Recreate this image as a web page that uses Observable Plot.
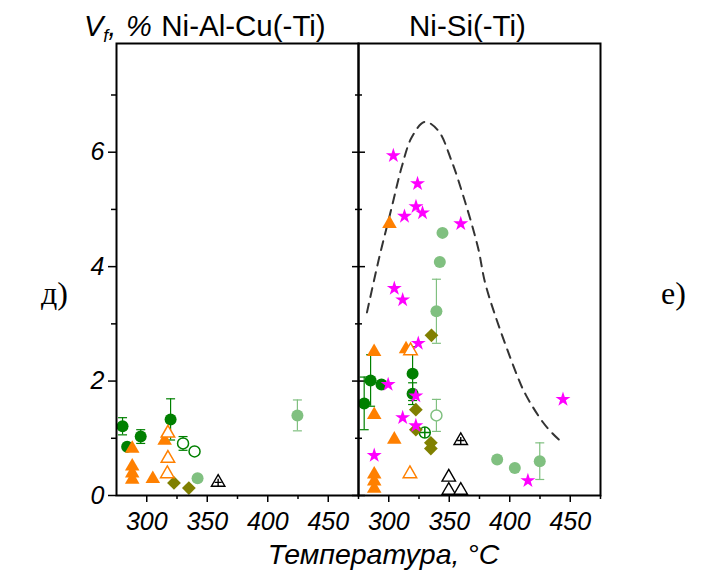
<!DOCTYPE html>
<html>
<head>
<meta charset="utf-8">
<script src="https://cdn.jsdelivr.net/npm/d3@7"></script>
<script src="https://cdn.jsdelivr.net/npm/@observablehq/plot@0.6"></script>
<style>
  html, body { margin: 0; padding: 0; background: #fff; }
  #chart svg { display: block; }
</style>
</head>
<body>
<div id="chart"></div>
<script>
// Alloy groups, one panel each
const panels = ["Ni-Al-Cu(-Ti)", "Ni-Si(-Ti)"];

// Tick values
const xMajorTicks = [300, 350, 400, 450];
const xMinorTicks = [325, 375, 425, 475];
const yMajorTicks = [0, 2, 4, 6];
const yMinorTicks = [1, 3, 5, 7];

// Rows: [panel index, temperature °C, Vf %, ± error]
const darkGreenCircles = [
  [0, 280, 1.21, 0.15],
  [0, 283.8, 0.85, 0],
  [0, 295, 1.03, 0.12],
  [0, 319.7, 1.33, 0.36],
  [1, 279.7, 1.61, 0.46],
  [1, 285, 2.01, 0.45],
  [1, 294, 1.94, 0],
  [1, 319.7, 2.13, 0.47],
  [1, 319.7, 1.78, 0.19]
];
const lightGreenCircles = [
  [0, 342, 0.30, 0],
  [0, 424.5, 1.40, 0.27],
  [1, 339.4, 3.22, 0.56],
  [1, 342.2, 4.08, 0.03],
  [1, 344.4, 4.59, 0],
  [1, 389.6, 0.63, 0],
  [1, 404.2, 0.48, 0],
  [1, 424.8, 0.60, 0.32]
];
const openGreenCircles = [
  [0, 330, 0.91, 0.12],
  [0, 339.5, 0.77, 0.05]
];
const openLightGreenCircles = [
  [1, 339.4, 1.40, 0.28]
];
const crossedGreenCircles = [
  [1, 329.8, 1.10, 0]
];
const oliveDiamonds = [
  [0, 322.5, 0.22, 0],
  [0, 334.8, 0.13, 0],
  [1, 335.3, 2.80, 0],
  [1, 322.4, 1.50, 0],
  [1, 322.4, 1.15, 0],
  [1, 334.8, 0.92, 0],
  [1, 334.8, 0.82, 0]
];
const orangeTriangles = [
  [0, 288, 0.82, 0],
  [0, 314.8, 0.96, 0],
  [0, 288, 0.51, 0],
  [0, 288, 0.39, 0],
  [0, 288, 0.28, 0],
  [0, 305, 0.29, 0],
  [1, 287.9, 2.51, 0],
  [1, 288, 1.41, 0],
  [1, 304.6, 0.98, 0],
  [1, 288, 0.37, 0],
  [1, 288, 0.25, 0],
  [1, 288, 0.12, 0],
  [1, 314.3, 2.56, 0],
  [1, 300.6, 4.75, 0]
];
const openOrangeTriangles = [
  [0, 317.5, 1.09, 0],
  [0, 317.5, 0.65, 0],
  [0, 317, 0.38, 0],
  [1, 318, 2.53, 0],
  [1, 317.5, 0.38, 0]
];
const magentaStars = [
  [1, 303.8, 5.94, 0],
  [1, 323.8, 5.45, 0],
  [1, 322.5, 5.05, 0],
  [1, 327.9, 4.94, 0],
  [1, 313, 4.88, 0],
  [1, 359.5, 4.75, 0],
  [1, 304.6, 3.62, 0],
  [1, 311.5, 3.42, 0],
  [1, 324.4, 2.66, 0],
  [1, 299.5, 1.94, 0],
  [1, 322.4, 1.74, 0],
  [1, 311.5, 1.36, 0],
  [1, 322.4, 1.22, 0],
  [1, 288, 0.70, 0],
  [1, 444, 1.68, 0],
  [1, 415, 0.26, 0]
];
const openBlackTriangles = [
  [1, 349.6, 0.32, 0],
  [1, 349.6, 0.09, 0],
  [1, 359.5, 0.09, 0]
];
const crossedBlackTriangles = [
  [0, 359, 0.23, 0],
  [1, 359.5, 0.96, 0]
];

// Dashed envelope in the Ni-Si(-Ti) panel
const envelopeT = [282, 291.6, 302.5, 310.7, 319, 329.8, 340.8, 351.7, 362.7, 373.7, 380.6, 406.6, 413.5, 427.4, 435.6, 444];
const envelopeV = [3.2, 4.11, 5.04, 5.74, 6.26, 6.53, 6.38, 5.86, 5.16, 4.34, 3.64, 2.07, 1.75, 1.28, 1.08, 0.91];

const rows = (arr) => arr.map(([p, T, V, e]) => ({panel: panels[p], T, V, e}));
const envelope = envelopeT.map((T, i) => ({panel: panels[1], T, V: envelopeV[i]}));

// Stroke-only symbols: a short horizontal bar (error caps) and a plus sign
const capSymbol = {draw(ctx, size) { const h = Math.sqrt(size / Math.PI); ctx.moveTo(-h, 0); ctx.lineTo(h, 0); }};
const plusSymbol = {draw(ctx, size) { const h = Math.sqrt(size / Math.PI); ctx.moveTo(-h, 0); ctx.lineTo(h, 0); ctx.moveTo(0, -h); ctx.lineTo(0, h); }};

function errorBars(data, color) {
  const withErr = data.filter(d => d.e > 0);
  const caps = withErr.flatMap(d => [{...d, y: d.V - d.e}, {...d, y: d.V + d.e}]);
  return [
    Plot.ruleX(withErr, {fx: "panel", x: "T", y1: d => d.V - d.e, y2: d => d.V + d.e, stroke: color, strokeWidth: 1.2}),
    Plot.dot(caps, {fx: "panel", x: "T", y: "y", symbol: capSymbol, r: 4.5, fill: "none", stroke: color, strokeWidth: 1.2})
  ];
}

const GREEN = "#008000", LIGHT = "#80c080", ORANGE = "#ff8000", OLIVE = "#808000", MAGENTA = "#ff00ff";
const dg = rows(darkGreenCircles), lg = rows(lightGreenCircles), og = rows(openGreenCircles),
      olg = rows(openLightGreenCircles), cg = rows(crossedGreenCircles), od = rows(oliveDiamonds),
      ot = rows(orangeTriangles), oot = rows(openOrangeTriangles), ms = rows(magentaStars),
      obt = rows(openBlackTriangles), cbt = rows(crossedBlackTriangles);

const tickText = {fontSize: 25, fontStyle: "italic", label: null, tickFormat: d => String(d)};

const chart = Plot.plot({
  width: 706,
  height: 573,
  marginLeft: 115,
  marginRight: 106,
  marginTop: 43,
  marginBottom: 78,
  style: {fontFamily: "'Liberation Sans', Arial, sans-serif", background: "white", color: "black", overflow: "visible"},
  fx: {domain: panels, padding: 0, axis: null},
  x: {domain: [275, 475]},
  y: {domain: [0, 7.9]},
  marks: [
    // axes
    Plot.axisX({ticks: xMajorTicks, tickSize: 7, tickPadding: 10, strokeWidth: 1.5, ...tickText}),
    Plot.axisX({ticks: xMinorTicks, tickSize: 4, strokeWidth: 1.5, text: null, label: null}),
    Plot.axisY({ticks: yMajorTicks, tickSize: 8, tickPadding: 4, strokeWidth: 1.5, ...tickText}),
    Plot.axisY({ticks: yMinorTicks, tickSize: 5, strokeWidth: 1.5, text: null, label: null}),
    Plot.axisY({anchor: "right", facetAnchor: "left", ticks: yMajorTicks, tickSize: -7, strokeWidth: 1.5, text: null, label: null}),
    Plot.axisY({anchor: "right", facetAnchor: "left", ticks: yMinorTicks, tickSize: -4, strokeWidth: 1.5, text: null, label: null}),
    Plot.axisY({anchor: "left", facetAnchor: "right", ticks: yMajorTicks, tickSize: -7, strokeWidth: 1.5, text: null, label: null}),
    Plot.axisY({anchor: "left", facetAnchor: "right", ticks: yMinorTicks, tickSize: -4, strokeWidth: 1.5, text: null, label: null}),

    // envelope
    Plot.line(envelope, {fx: "panel", x: "T", y: "V", curve: "catmull-rom", stroke: "#333", strokeWidth: 2, strokeDasharray: "9,7"}),

    // error bars
    ...errorBars(dg, GREEN),
    ...errorBars(lg, LIGHT),
    ...errorBars(og, GREEN),
    ...errorBars(olg, LIGHT),

    // markers
    Plot.dot(dg, {fx: "panel", x: "T", y: "V", r: 6, fill: GREEN}),
    Plot.dot(lg, {fx: "panel", x: "T", y: "V", r: 6, fill: LIGHT}),
    Plot.dot(og, {fx: "panel", x: "T", y: "V", r: 5.5, fill: "white", stroke: GREEN, strokeWidth: 1.5}),
    Plot.dot(olg, {fx: "panel", x: "T", y: "V", r: 5.5, fill: "white", stroke: LIGHT, strokeWidth: 1.5}),
    Plot.dot(cg, {fx: "panel", x: "T", y: "V", r: 5.5, fill: "white", stroke: GREEN, strokeWidth: 1.5}),
    Plot.dot(cg, {fx: "panel", x: "T", y: "V", r: 5.5, symbol: plusSymbol, fill: "none", stroke: GREEN, strokeWidth: 1.5}),
    Plot.dot(od, {fx: "panel", x: "T", y: "V", r: 6.2, symbol: "diamond2", fill: OLIVE, stroke: "none"}),
    Plot.dot(ot, {fx: "panel", x: "T", y: "V", r: 5.4, symbol: "triangle", fill: ORANGE, stroke: "none"}),
    Plot.dot(oot, {fx: "panel", x: "T", y: "V", r: 5, symbol: "triangle", fill: "white", stroke: ORANGE, strokeWidth: 1.5}),
    Plot.dot(ms, {fx: "panel", x: "T", y: "V", r: 4.7, symbol: "star", fill: MAGENTA, stroke: "none"}),
    Plot.dot(obt, {fx: "panel", x: "T", y: "V", r: 5, symbol: "triangle", fill: "white", stroke: "black", strokeWidth: 1.4}),
    Plot.dot(cbt, {fx: "panel", x: "T", y: "V", r: 5, symbol: "triangle", fill: "white", stroke: "black", strokeWidth: 1.4}),
    Plot.dot(cbt, {fx: "panel", x: "T", y: "V", r: 3.6, symbol: plusSymbol, fill: "none", stroke: "black", strokeWidth: 1.4}),

    // panel frames
    Plot.frame({stroke: "black", strokeWidth: 2})
  ]
});

document.getElementById("chart").appendChild(chart);

// Titles, axis labels and panel letters
const svg = d3.select(chart);
const sans = "'Liberation Sans', Arial, sans-serif";
const serif = "'Liberation Serif', 'Times New Roman', serif";

const yLabel = svg.append("text")
  .attr("x", 84).attr("y", 36).attr("text-anchor", "start")
  .attr("font-family", sans).attr("font-size", 29).attr("font-style", "italic").attr("fill", "black");
yLabel.append("tspan").text("V");
yLabel.append("tspan").attr("font-size", 18).attr("dy", 6).text("f");
yLabel.append("tspan").attr("dy", -6).text(",");
svg.append("text").attr("x", 126).attr("y", 36).attr("text-anchor", "start")
  .attr("font-family", sans).attr("font-size", 29).attr("font-style", "italic").attr("fill", "black").text("%");

svg.append("text").attr("x", 243.5).attr("y", 36).attr("text-anchor", "middle")
  .attr("font-family", sans).attr("font-size", 29.5).attr("fill", "black").text(panels[0]);
svg.append("text").attr("x", 467.5).attr("y", 36).attr("text-anchor", "middle")
  .attr("font-family", sans).attr("font-size", 29.5).attr("fill", "black").text(panels[1]);

svg.append("text").attr("x", 383.5).attr("y", 564).attr("text-anchor", "middle")
  .attr("font-family", sans).attr("font-size", 28.5).attr("font-style", "italic").attr("fill", "black")
  .text("Температура, °C");

svg.append("text").attr("x", 41).attr("y", 304).attr("text-anchor", "start")
  .attr("font-family", serif).attr("font-size", 32).attr("fill", "black").text("д)");
svg.append("text").attr("x", 661).attr("y", 304).attr("text-anchor", "start")
  .attr("font-family", serif).attr("font-size", 32).attr("fill", "black").text("е)");
</script>
</body>
</html>
